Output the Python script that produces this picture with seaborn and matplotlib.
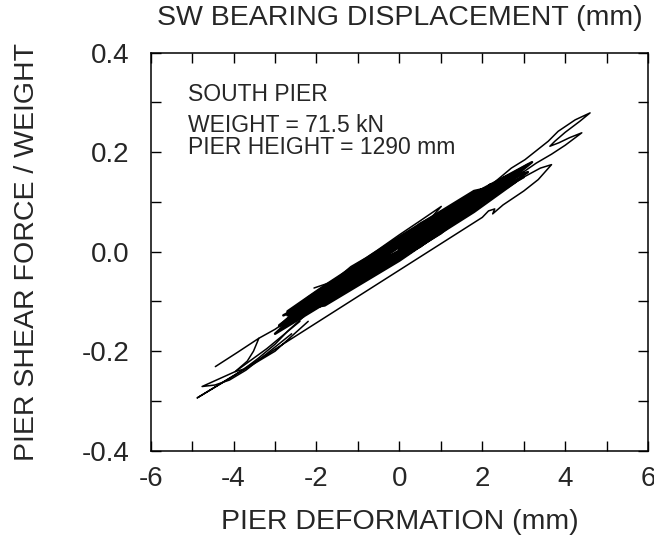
"""
Pier shear force vs pier deformation hysteresis (south pier).
"""

import matplotlib
matplotlib.use("Agg")
import matplotlib.pyplot as plt
from matplotlib.ticker import MultipleLocator, FormatStrFormatter
import seaborn as sns

# ---------------------------------------------------------------------------
# Data (deformation in mm, force / weight)
# ---------------------------------------------------------------------------
# dense central cycles
band1_disp = [0.0, 0.5, 1.0, 0.0, -1.2, -0.1, 1.8, 0.1, -1.6, 0.3, 2.2, -0.1, -2.4, 0.1, 2.6,
              0.25, -2.1, 0.5, 3.1, 0.2, -2.8, -0.1, 2.4, -0.1, -2.6, 0.15, 2.9, 0.5, -1.9,
              -0.15, 1.6, -0.3, -2.2, -0.1, 2.0, 0.3, -1.4, -0.1, 1.2, -0.1, -1.0, 0.1, 0.6, 0.0]
band1_force = [0.006, 0.020, 0.062, 0.028, -0.062, -0.019, 0.092, 0.026, -0.068, 0.014, 0.128,
               0.019, -0.130, -0.006, 0.133, 0.029, -0.090, 0.010, 0.175, 0.036, -0.152, -0.003,
               0.120, 0.007, -0.118, 0.000, 0.165, 0.056, -0.104, -0.023, 0.097, -0.007, -0.115,
               -0.009, 0.103, 0.035, -0.074, -0.015, 0.072, 0.022, -0.040, 0.002, 0.037, 0.006]

band2_disp = [0.0, 1.0, 2.7, 1.0, -1.0, -2.5, -1.0, 1.0, 2.3, 1.0, -1.0, -2.9, -1.0, 1.0, 3.0,
              1.0, -1.0, -2.3, -1.0, 1.0, 2.1, 1.0, -1.0, -2.7, -1.0, 1.0, 2.5, 1.0, -1.0, -2.0, 0.0]
band2_force = [0.010, 0.048, 0.150, 0.075, -0.035, -0.126, -0.060, 0.044, 0.122, 0.070, -0.026,
               -0.148, -0.062, 0.040, 0.160, 0.080, -0.038, -0.121, -0.052, 0.052, 0.118, 0.064,
               -0.030, -0.128, -0.066, 0.037, 0.140, 0.074, -0.043, -0.092, -0.006]

band3_disp = [0.0, 1.8, 2.8, 1.8, 0.0, -1.8, -2.7, -1.8, 0.0, 1.8, 3.2, 1.8, 0.0, -1.8, -3.0,
              -1.8, 0.0, 1.8, 2.6, 1.8, 0.0, -1.8, -2.5, -1.8, 0.0, 1.8, 3.0, 1.8, 0.0, -1.8,
              -2.8, -1.8, 0.0, 1.8, 2.2, 1.8, 0.0]
band3_force = [-0.015, 0.080, 0.140, 0.122, 0.030, -0.068, -0.120, -0.108, -0.018, 0.085, 0.180,
               0.117, 0.024, -0.072, -0.165, -0.104, -0.012, 0.090, 0.152, 0.112, 0.018, -0.078,
               -0.136, -0.100, -0.006, 0.095, 0.150, 0.108, 0.013, -0.083, -0.128, -0.094, 0.000,
               0.102, 0.135, 0.104, 0.008]

band4_disp = [0.0, -1.0, -2.2, -2.9, -2.2, -1.0, 0.0, 1.0, 2.2, 3.1, 2.2, 1.0, 0.0, -1.0, -2.2,
              -2.6, -2.2, -1.0, 0.0, 1.0, 2.2, 2.8, 2.2, 1.0, 0.0]
band4_force = [0.016, -0.030, -0.096, -0.150, -0.122, -0.064, -0.010, 0.044, 0.108, 0.160, 0.134,
               0.074, 0.024, -0.026, -0.092, -0.120, -0.118, -0.056, -0.002, 0.050, 0.113, 0.158,
               0.128, 0.066, 0.012]

# negative excursions
negA_disp = [-4.44, -3.9, -3.39, -3.52, -3.67, -3.96, -3.75, -3.4, -3.0, -2.7, -2.3]
negA_force = [-0.231, -0.202, -0.174, -0.200, -0.220, -0.241, -0.236, -0.214, -0.186, -0.160, -0.130]

negB_disp = [-3.39, -3.0, -2.6, -2.2]
negB_force = [-0.174, -0.156, -0.133, -0.108]

negC_disp = [-2.4, -3.2, -3.96, -4.76, -4.45, -4.1, -3.7, -3.2, -2.6]
negC_force = [-0.140, -0.195, -0.241, -0.271, -0.268, -0.258, -0.238, -0.205, -0.165]

negD_disp = [-2.2, -3.0, -3.8, -4.4, -4.88, -4.0, -3.0, -2.0, -1.0, 0.0, 1.0, 2.0, 2.15, 2.3,
             2.25, 2.5, 3.0, 3.35, 3.67, 3.4, 3.0, 2.6]
negD_force = [-0.140, -0.200, -0.240, -0.270, -0.294, -0.249, -0.196, -0.143, -0.090, -0.037,
              0.016, 0.069, 0.082, 0.086, 0.076, 0.094, 0.122, 0.145, 0.175, 0.168, 0.150, 0.128]

# positive excursions
posA_disp = [2.3, 2.7, 3.03, 3.59, 3.83, 4.24, 4.60, 4.35, 4.0, 3.75, 3.63, 3.85, 4.1, 4.40,
             4.0, 3.67, 3.3, 2.9, 2.5]
posA_force = [0.140, 0.168, 0.185, 0.222, 0.242, 0.265, 0.279, 0.262, 0.240, 0.222, 0.212,
              0.219, 0.229, 0.239, 0.214, 0.196, 0.178, 0.155, 0.130]

upper_disp = [-2.06, -1.6, -1.17, -0.8, -0.53, 0.0, 0.5, 1.01, 0.7, 0.3, -0.2, -0.8, -1.3, -1.8]
upper_force = [-0.073, -0.060, -0.030, -0.012, 0.003, 0.034, 0.062, 0.091, 0.062, 0.036, 0.010,
               -0.024, -0.052, -0.080]

paths = [
    (band1_disp, band1_force, 1.8),
    (band2_disp, band2_force, 1.8),
    (band3_disp, band3_force, 1.8),
    (band4_disp, band4_force, 1.8),
    (negA_disp, negA_force, 1.1),
    (negB_disp, negB_force, 1.1),
    (negC_disp, negC_force, 1.1),
    (negD_disp, negD_force, 1.1),
    (posA_disp, posA_force, 1.1),
    (upper_disp, upper_force, 1.1),
]

# ---------------------------------------------------------------------------
# Style
# ---------------------------------------------------------------------------
sns.set_style("ticks")
plt.rcParams["font.family"] = ["Liberation Sans", "DejaVu Sans"]
plt.rcParams["axes.unicode_minus"] = False

fig = plt.figure(figsize=(6.54, 5.4), dpi=100)
ax = fig.add_axes([0.2304, 0.1654, 0.7606, 0.7370])

for xs, ys, lw in paths:
    sns.lineplot(x=xs, y=ys, sort=False, estimator=None, color="black",
                 linewidth=lw, ax=ax)

ax.set_xlim(-6, 6)
ax.set_ylim(-0.4, 0.4)
ax.xaxis.set_major_locator(MultipleLocator(2))
ax.xaxis.set_minor_locator(MultipleLocator(1))
ax.yaxis.set_major_locator(MultipleLocator(0.2))
ax.yaxis.set_minor_locator(MultipleLocator(0.1))
ax.yaxis.set_major_formatter(FormatStrFormatter("%.1f"))

ax.tick_params(which="both", direction="in", top=True, right=True, length=7,
               width=1, color="black")
ax.tick_params(axis="x", which="major", labelsize=20, pad=11)
ax.tick_params(axis="y", which="major", labelsize=20, pad=15)
for s in ax.spines.values():
    s.set_linewidth(1.1)
    s.set_color("black")

ax.set_xlabel("PIER DEFORMATION (mm)", fontsize=20.5, labelpad=12)
ax.set_ylabel("PIER SHEAR FORCE / WEIGHT", fontsize=20.5, labelpad=30)
ax.set_title("SW BEARING DISPLACEMENT (mm)", fontsize=20.5, pad=20)

ax.text(0.0756, 0.925, "SOUTH PIER", transform=ax.transAxes, fontsize=16.5,
        va="top", ha="left")
ax.text(0.0756, 0.845, "WEIGHT = 71.5 kN\nPIER HEIGHT = 1290 mm", transform=ax.transAxes,
        fontsize=16.5, va="top", ha="left", linespacing=0.9)

fig.savefig("out.png", dpi=100)
